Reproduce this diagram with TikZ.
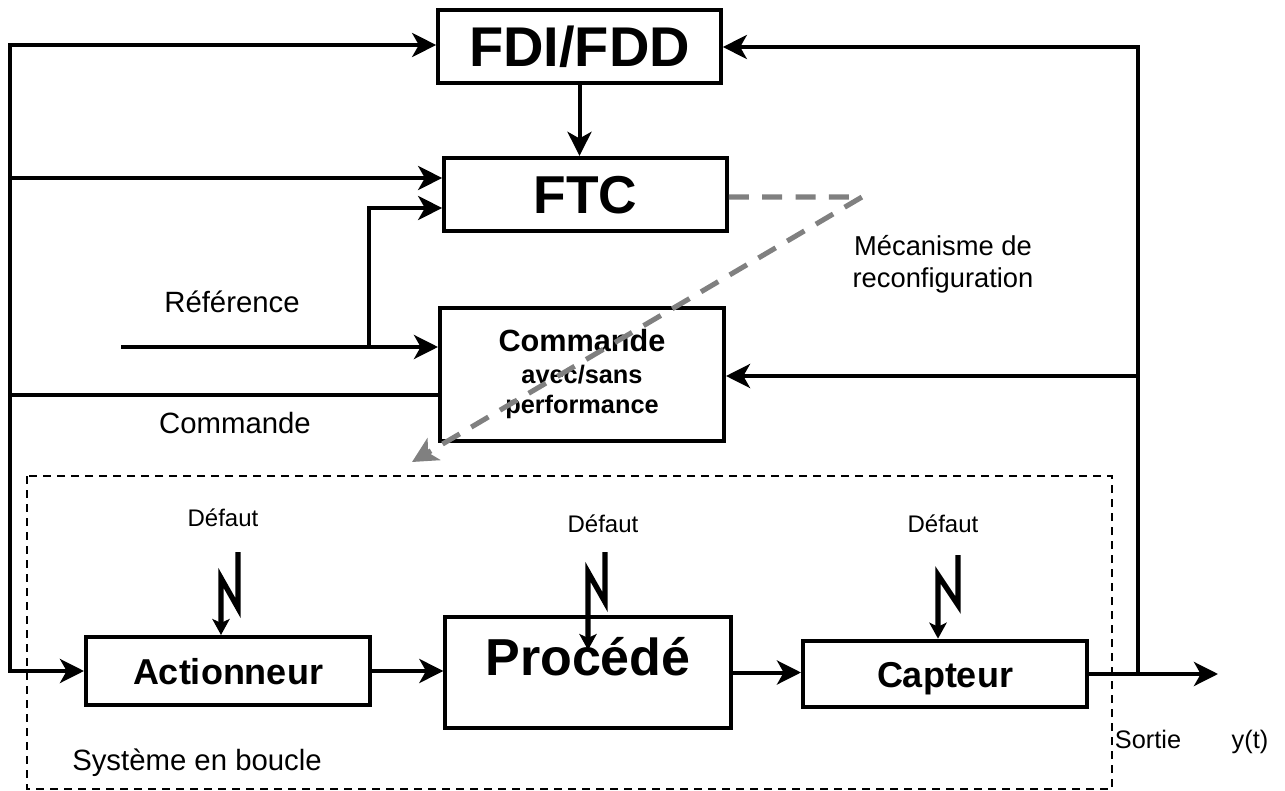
\documentclass[tikz,border=0pt]{standalone}
\usepackage{fontspec}
\setmainfont{Liberation Sans}
\usetikzlibrary{arrows.meta,calc}
\definecolor{recongray}{RGB}{128,128,128}

\begin{document}
\begin{tikzpicture}[x=0.75pt,y=-0.75pt,
  blk/.style={draw,line width=3pt,inner sep=0pt,font=\bfseries},
  wire/.style={line width=3pt,line cap=rect},
  flow/.style={line width=3pt,line cap=rect,-{Stealth[length=18pt,width=18pt,inset=5pt]}},
  fault/.style={line width=4pt,miter limit=10,-{Stealth[length=12pt,width=13pt,inset=3pt]}},
  recon/.style={draw=recongray,line width=3.8pt,dash pattern=on 15pt off 10pt,
    -{Stealth[length=19pt,width=19pt,inset=5pt]}},
  lbl/.style={inner sep=0pt,font=\fontsize{22}{26}\selectfont},
  small/.style={inner sep=0pt,font=\fontsize{18}{21}\selectfont},
  outlbl/.style={inner sep=0pt,anchor=base,font=\fontsize{19}{22}\selectfont}]

\useasboundingbox (0,0) rectangle (1285,791);

% blocks
\node[blk,minimum width=212pt,minimum height=55pt,text height=30pt,text depth=0pt,
  font=\bfseries\fontsize{42}{48}\selectfont]
  (fdi) at (579.5,46.5) {FDI/FDD};
\node[blk,minimum width=212pt,minimum height=55pt,text height=29pt,text depth=0pt,
  font=\bfseries\fontsize{40}{46}\selectfont]
  (ftc) at (585.5,194.5) {FTC};
\node[blk,minimum width=213pt,minimum height=100pt,align=center,
  font=\bfseries\fontsize{19}{22.5}\selectfont]
  (cmd) at (582,374.5)
  {{\fontsize{23}{25}\selectfont Commande}\\[1.5pt]
   avec/sans\\
   performance};
\node[blk,minimum width=213pt,minimum height=51pt,text height=19.5pt,text depth=0pt,
  font=\bfseries\fontsize{27}{32}\selectfont]
  (act) at (228,671) {Actionneur};
\node[blk,minimum width=214pt,minimum height=83pt,font=\bfseries\fontsize{39}{45}\selectfont]
  (proc) at (588,672.5) {\raisebox{-2pt}[0pt][0pt]{Procédé}};
\node[blk,minimum width=213pt,minimum height=50pt,text height=19.5pt,text depth=0pt,
  font=\bfseries\fontsize{27}{32}\selectfont]
  (cap) at (945,674) {Capteur};

% closed-loop system frame
\draw[line width=1.5pt,dash pattern=on 6pt off 4.5pt] (27,476) rectangle (1112,789);

% labels
\node[lbl] (ref) at (232,302) {Référence};
\node[lbl] (cmdlbl) at (235,423) {Commande};
\node[lbl,anchor=west] (sys) at (72,763) {Système en boucle};
\node[inner sep=0pt,align=center,font=\fontsize{20.5}{24}\selectfont] (meca) at (943,264)
  {Mécanisme de\\reconfiguration};
\node[small] (d1) at (223,518) {Défaut};
\node[small] (d2) at (603,524) {Défaut};
\node[small] (d3) at (943,524) {Défaut};
\node[outlbl] (sortie) at (1148,748) {Sortie};
\node[outlbl] (yt) at (1250,748) {y(t)};

% junction points
\coordinate (busTop) at (10,45);
\coordinate (busFTC) at (10,178);
\coordinate (busCmd) at (10,395);
\coordinate (refIn) at (123,347);
\coordinate (refSplit) at (369,347);
\coordinate (refUp) at (369,208);
\coordinate (fbTop) at (1138,47);
\coordinate (fbCmd) at (1138,376);
\coordinate (fbBot) at (1138,674);
\coordinate (out) at (1218,674);
\coordinate (reconCorner) at (862,197);
\coordinate (reconTip) at (412,462);

% left bus
\draw[flow] (busTop) -- (fdi.west |- busTop);
\draw[flow] (busFTC) -- (ftc.west |- busFTC);
\draw[wire] (busCmd) -- (cmd.west |- busCmd);
\draw[flow] (busTop) |- (act.west);

% reference input
\draw[flow] (refIn) -- (cmd.west |- refIn);
\draw[flow] (refSplit) -- (refUp) -- (ftc.west |- refUp);

% diagnosis to FTC
\draw[flow] (fdi.south) -- (fdi.south |- ftc.north);

% forward chain
\draw[flow] (act.east) -- (proc.west |- act.east);
\draw[flow] (proc.east) -- (cap.west |- proc.east);
\draw[flow] (cap.east) -- (out);

% feedback
\draw[flow] (fbBot) -- (fbTop) -- (fdi.east |- fbTop);
\draw[flow] (fbCmd) -- (cmd.east |- fbCmd);

% reconfiguration mechanism
\draw[recon] (ftc.east |- reconCorner) -- (reconCorner) -- (reconTip);

% faults
\coordinate (f1a) at (238,552); \coordinate (f1b) at (238,608); \coordinate (f1c) at (221,578);
\coordinate (f2a) at (605,552); \coordinate (f2b) at (605,602); \coordinate (f2c) at (588,572);
\coordinate (f2d) at (588,650);
\coordinate (f3a) at (958,555); \coordinate (f3b) at (958,605); \coordinate (f3c) at (938,575);
\draw[fault] (f1a) -- (f1b) -- (f1c) -- (f1c |- act.north);
\draw[fault] (f2a) -- (f2b) -- (f2c) -- (f2d);
\draw[fault] (f3a) -- (f3b) -- (f3c) -- (f3c |- cap.north);
\end{tikzpicture}
\end{document}
